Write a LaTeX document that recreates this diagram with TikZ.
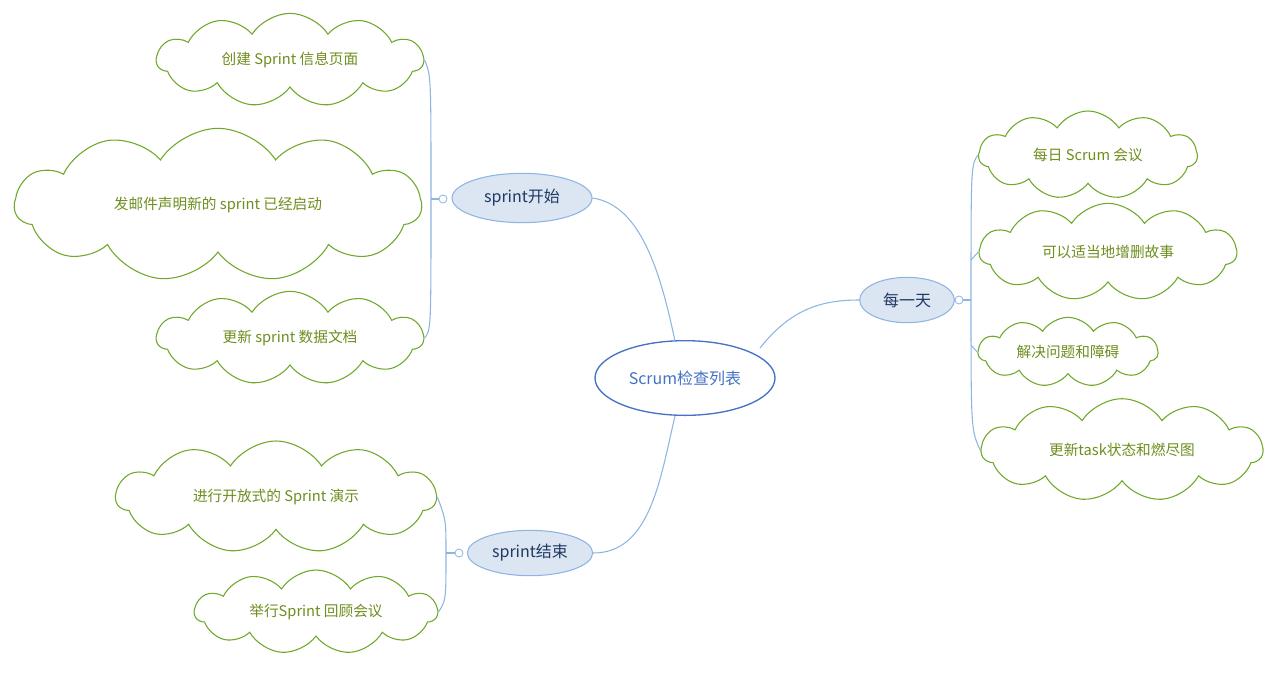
\documentclass[tikz,border=0pt]{standalone}
\usepackage{fontspec}
\setmainfont{Noto Sans CJK SC}
\usetikzlibrary{shapes.symbols,shapes.geometric}
\definecolor{cg}{HTML}{6FA82A}
\definecolor{ct}{HTML}{6E8E1E}
\definecolor{lb}{HTML}{8EB4E3}
\definecolor{fb}{HTML}{DCE6F2}
\definecolor{db}{HTML}{1F3864}
\definecolor{cb}{HTML}{4472C4}
\tikzset{
 cl/.style={cloud, cloud puffs=11, cloud puff arc=115, aspect=5, draw=cg, fill=white, line width=0.8pt, text=ct, font=\fontsize{11}{13}\selectfont, inner sep=0pt},
 topic/.style={ellipse, draw=lb, fill=fb, line width=0.8pt, text=db, font=\fontsize{12}{14}\selectfont, inner sep=0pt},
 ln/.style={draw=lb, line width=0.8pt},
 knob/.style={circle, draw=lb, fill=white, line width=0.6pt, minimum size=6pt, inner sep=0pt}
}
\begin{document}
\begin{tikzpicture}[x=0.75pt,y=-0.75pt]
\useasboundingbox (0,0) rectangle (1280,679);
% clouds
\node[cl, minimum width=200pt, minimum height=70pt] (c1) at (290,60) {创建 Sprint 信息页面};
\node[cl, minimum width=305pt, minimum height=115pt] (c2) at (218,205) {发邮件声明新的 sprint 已经启动};
\node[cl, minimum width=200pt, minimum height=70pt] (c3) at (290,338) {更新 sprint 数据文档};
\node[cl, minimum width=240pt, minimum height=84pt] (c4) at (276,497) {进行开放式的 Sprint 演示};
\node[cl, minimum width=182pt, minimum height=63pt] (c5) at (316,612) {举行Sprint 回顾会议};
\node[cl, minimum width=164pt, minimum height=66pt] (d1) at (1088,155) {每日 Scrum 会议};
\node[cl, minimum width=193pt, minimum height=73pt] (d2) at (1108,252) {可以适当地增删故事};
\node[cl, minimum width=135pt, minimum height=52pt] (d3) at (1068,352) {解决问题和障碍};
\node[cl, minimum width=211pt, minimum height=77pt] (d4) at (1122,450) {更新task状态和燃尽图};
% topics
\node[ellipse, draw=cb, fill=white, line width=1pt, text=cb, minimum width=135pt, minimum height=56pt, font=\fontsize{12}{14}\selectfont, inner sep=0pt] (root) at (685,378) {Scrum检查列表};
\node[topic, minimum width=105pt, minimum height=37pt] (t1) at (522,198) {sprint开始};
\node[topic, minimum width=94pt, minimum height=34pt] (t2) at (530,553) {sprint结束};
\node[topic, minimum width=71pt, minimum height=34pt] (t3) at (907,300) {每一天};
% knobs
\node[knob] (k1) at (443,199) {};
\node[knob] (k2) at (459,553) {};
\node[knob] (k3) at (959,300) {};
% root connectors
\draw[ln] (675,341) .. controls (660,270) and (640,205) .. (t1.east);
\draw[ln] (675,416) .. controls (660,480) and (650,553) .. (t2.east);
\draw[ln] (760,348) .. controls (790,310) and (820,300) .. (t3.west);
% brackets
\draw[ln] (k1.west) -- (431,199);
\draw[ln] (c1.east) .. controls (431,75) .. (431,199) .. controls (431,330) .. (c3.east);
\draw[ln] (k2.west) -- (446,553);
\draw[ln] (c4.east) .. controls (446,520) .. (446,553) .. controls (446,600) .. (c5.east);
\draw[ln] (k3.east) -- (971,300);
\draw[ln] (d1.west) .. controls (971,165) .. (971,300) .. controls (971,430) .. (d4.west);
\draw[ln] (971,260) -- (d2.west);
\draw[ln] (971,345) -- (d3.west);
\end{tikzpicture}
\end{document}
